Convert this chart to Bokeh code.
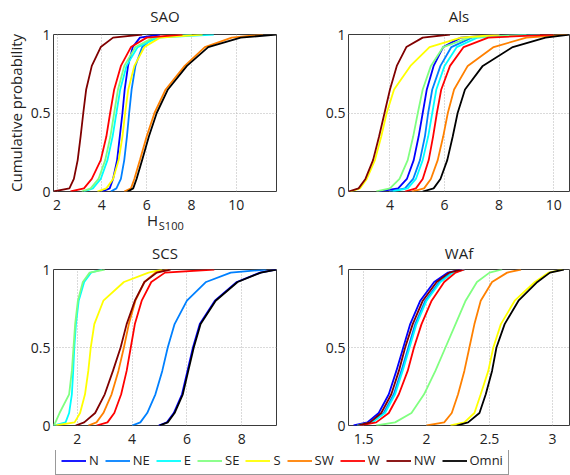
from bokeh.embed import file_html
from bokeh.layouts import column, row
from bokeh.models import (ColumnDataSource, FixedTicker, Legend, LegendItem,
                          LinearAxis, Range1d)
from bokeh.plotting import figure
from bokeh.resources import INLINE

# Cumulative probability levels at which the quantiles below are given
PROB = [0, 0.02, 0.08, 0.2, 0.35, 0.5, 0.65, 0.8, 0.92, 0.98, 1]

DIRECTIONS = ["N", "NE", "E", "SE", "S", "SW", "W", "NW", "Omni"]
COLORS = ["#0000ff", "#0080ff", "#00ffff", "#80ff80", "#ffff00",
          "#ff8000", "#ff0000", "#800000", "#000000"]

# --- SAO: H_S100 quantiles per direction ---
sao_n = [4.0, 4.35, 4.5, 4.68, 4.8, 4.92, 5.02, 5.17, 5.38, 5.7, 6.6]
sao_ne = [4.4, 4.65, 4.85, 5.0, 5.12, 5.22, 5.33, 5.5, 5.8, 6.3, 8.0]
sao_e = [3.2, 3.6, 3.95, 4.25, 4.48, 4.65, 4.82, 5.1, 5.6, 6.5, 9.0]
sao_se = [3.1, 3.5, 3.85, 4.15, 4.38, 4.55, 4.72, 5.0, 5.5, 6.3, 8.0]
sao_s = [3.8, 4.2, 4.5, 4.75, 4.92, 5.04, 5.18, 5.45, 5.9, 6.6, 8.5]
sao_sw = [5.0, 5.3, 5.45, 5.7, 6.0, 6.35, 6.85, 7.7, 8.6, 9.8, 11.2]
sao_w = [2.6, 3.2, 3.55, 3.95, 4.2, 4.37, 4.55, 4.85, 5.3, 6.0, 7.6]
sao_nw = [1.84, 2.55, 2.75, 2.92, 3.05, 3.17, 3.3, 3.55, 3.95, 4.5, 5.8]
sao_omni = [5.15, 5.4, 5.55, 5.8, 6.1, 6.45, 6.95, 7.8, 8.75, 10.2, 11.8]

# --- Als ---
als_n = [3.6, 4.3, 4.62, 4.87, 5.05, 5.2, 5.35, 5.6, 5.95, 6.6, 8.0]
als_ne = [4.0, 4.55, 4.85, 5.1, 5.28, 5.4, 5.55, 5.85, 6.25, 7.0, 9.0]
als_e = [4.1, 4.65, 4.95, 5.2, 5.4, 5.55, 5.7, 6.0, 6.45, 7.2, 9.5]
als_se = [3.5, 4.0, 4.35, 4.65, 4.85, 5.02, 5.2, 5.5, 5.95, 6.9, 9.0]
als_s = [2.55, 2.9, 3.15, 3.45, 3.68, 3.88, 4.15, 4.75, 5.45, 6.6, 8.0]
als_sw = [4.8, 5.25, 5.5, 5.75, 5.95, 6.12, 6.35, 6.85, 7.8, 9.0, 10.5]
als_w = [4.55, 4.95, 5.2, 5.42, 5.58, 5.72, 5.88, 6.2, 6.7, 7.6, 10.0]
als_nw = [2.48, 2.85, 3.1, 3.38, 3.6, 3.8, 4.0, 4.25, 4.6, 5.2, 6.2]
als_omni = [5.2, 5.6, 5.85, 6.1, 6.3, 6.48, 6.75, 7.4, 8.5, 9.7, 10.58]

# --- SCS ---
scs_n = [4.97, 5.27, 5.52, 5.82, 6.02, 6.22, 6.47, 7.02, 7.82, 8.67, 9.25]
scs_ne = [4.0, 4.3, 4.55, 4.85, 5.1, 5.3, 5.55, 6.0, 6.7, 7.6, 8.9]
scs_e = [1.13, 1.57, 1.7, 1.8, 1.85, 1.89, 1.95, 2.05, 2.25, 2.5, 2.9]
scs_se = [1.13, 1.2, 1.35, 1.7, 1.8, 1.86, 1.92, 2.02, 2.2, 2.45, 3.0]
scs_s = [1.2, 1.9, 2.1, 2.28, 2.4, 2.49, 2.62, 2.95, 3.7, 4.6, 5.1]
scs_sw = [2.4, 2.7, 2.95, 3.25, 3.5, 3.7, 3.88, 4.12, 4.45, 4.85, 5.3]
scs_w = [2.7, 3.1, 3.35, 3.6, 3.8, 3.95, 4.1, 4.35, 4.7, 5.2, 7.0]
scs_nw = [1.94, 2.25, 2.65, 3.0, 3.3, 3.58, 3.8, 4.1, 4.45, 4.9, 5.4]
scs_omni = [5.0, 5.3, 5.55, 5.85, 6.05, 6.25, 6.5, 7.05, 7.85, 8.7, 9.27]

# --- WAf ---
waf_n = [1.42, 1.53, 1.62, 1.7, 1.76, 1.815, 1.87, 1.95, 2.06, 2.17, 2.28]
waf_ne = [1.45, 1.56, 1.66, 1.74, 1.8, 1.855, 1.91, 1.99, 2.1, 2.2, 2.3]
waf_e = [1.45, 1.57, 1.67, 1.75, 1.81, 1.865, 1.92, 2.0, 2.11, 2.21, 2.3]
waf_se = [1.6, 1.75, 1.88, 1.98, 2.07, 2.15, 2.23, 2.31, 2.4, 2.5, 2.6]
waf_s = [2.19, 2.3, 2.38, 2.43, 2.49, 2.53, 2.59, 2.7, 2.86, 2.97, 3.08]
waf_sw = [2.0, 2.14, 2.2, 2.25, 2.3, 2.34, 2.38, 2.43, 2.52, 2.64, 2.75]
waf_w = [1.47, 1.6, 1.7, 1.78, 1.85, 1.9, 1.96, 2.04, 2.14, 2.23, 2.3]
waf_nw = [1.45, 1.55, 1.64, 1.72, 1.78, 1.83, 1.89, 1.97, 2.08, 2.18, 2.28]
waf_omni = [2.24, 2.33, 2.42, 2.47, 2.52, 2.555, 2.62, 2.73, 2.88, 2.98, 3.09]

# Axis extents and tick labels
sao_xrange = (1.84, 11.8)
als_xrange = (2.48, 10.58)
scs_xrange = (1.13, 9.27)
waf_xrange = (1.38, 3.135)
sao_xticks = [2, 4, 6, 8, 10]
als_xticks = [4, 6, 8, 10]
scs_xticks = [2, 4, 6, 8]
waf_xticks = [1.5, 2, 2.5, 3]
waf_xtick_labels = ["1.5", "2", "2.5", "3"]
y_ticks = [0, 0.5, 1]
y_tick_labels = ["0", "0.5", "1"]

FONT = "Open Sans"
TEXT_COLOR = "#222222"


def style_axis(ax, size="14px", standoff=4):
    ax.axis_line_color = None
    ax.major_tick_line_color = None
    ax.minor_tick_line_color = None
    ax.major_tick_out = 0
    ax.major_tick_in = 0
    ax.minor_tick_out = 0
    ax.minor_tick_in = 0
    ax.major_label_text_font = FONT
    ax.major_label_text_font_size = size
    ax.major_label_text_color = TEXT_COLOR
    ax.major_label_standoff = standoff


def panel(title, xr, xticks, series, border, frame_w, frame_h, title_gap,
          xtick_labels=None, ylabel=None):
    left, right, top, bottom = border
    p = figure(frame_width=frame_w, frame_height=frame_h,
               x_range=Range1d(*xr), y_range=Range1d(0, 1),
               output_backend="svg", toolbar_location=None,
               min_border_left=left, min_border_right=right,
               min_border_top=top, min_border_bottom=bottom,
               background_fill_color="white", border_fill_color="white")
    p.title = None
    x_axis = p.below[0]
    y_axis = p.left[0]

    x_axis.ticker = FixedTicker(ticks=xticks)
    y_axis.ticker = FixedTicker(ticks=y_ticks)
    y_axis.major_label_overrides = {t: s for t, s in zip(y_ticks, y_tick_labels)}
    if xtick_labels is not None:
        x_axis.major_label_overrides = {t: s for t, s in zip(xticks, xtick_labels)}
    style_axis(x_axis, standoff=8)
    style_axis(y_axis, standoff=3)
    if ylabel:
        y_axis.axis_label = ylabel
        y_axis.axis_label_text_font = FONT
        y_axis.axis_label_text_font_size = "15px"
        y_axis.axis_label_text_font_style = "normal"
        y_axis.axis_label_text_color = TEXT_COLOR
        y_axis.axis_label_standoff = 2

    # Panel name, centred above the frame on a bare top axis
    mid = (xr[0] + xr[1]) / 2
    top_axis = LinearAxis(ticker=FixedTicker(ticks=[mid]),
                          major_label_overrides={mid: title})
    style_axis(top_axis, size="15px", standoff=title_gap)
    p.add_layout(top_axis, "above")

    p.xgrid.ticker = FixedTicker(ticks=xticks)
    p.ygrid.ticker = FixedTicker(ticks=y_ticks)
    for g in (p.xgrid[0], p.ygrid[0]):
        g.grid_line_color = "#b4b4b4"
        g.grid_line_dash = "1 2"
        g.grid_line_width = 1

    p.outline_line_color = "#3a3a3a"
    p.outline_line_width = 1

    for xs, color in zip(series, COLORS):
        src = ColumnDataSource(dict(x=xs, y=PROB))
        p.line("x", "y", source=src, line_color=color, line_width=1.8)
    return p


sao_series = [sao_n, sao_ne, sao_e, sao_se, sao_s, sao_sw, sao_w, sao_nw, sao_omni]
sao = panel("SAO", sao_xrange, sao_xticks, sao_series,
            (53, 24, 34, 44), 223, 157, 9, ylabel="Cumulative probability")

# H_S100 axis title: main letter and subscript set as labels of two bare axes
h_pos, sub_pos = 6.26, 7.1
h_axis = LinearAxis(ticker=FixedTicker(ticks=[h_pos]),
                    major_label_overrides={h_pos: "H"})
style_axis(h_axis, size="15px", standoff=-3)
sub_axis = LinearAxis(ticker=FixedTicker(ticks=[sub_pos]),
                      major_label_overrides={sub_pos: "S100"})
style_axis(sub_axis, size="11px", standoff=-15)
sao.add_layout(h_axis, "below")
sao.add_layout(sub_axis, "below")

als = panel("Als", als_xrange, als_xticks,
            [als_n, als_ne, als_e, als_se, als_s, als_sw, als_w, als_nw, als_omni],
            (48, 1, 34, 44), 221, 157, 9)
scs = panel("SCS", scs_xrange, scs_xticks,
            [scs_n, scs_ne, scs_e, scs_se, scs_s, scs_sw, scs_w, scs_nw, scs_omni],
            (53, 24, 34, 25), 223, 156, 7)
waf = panel("WAf", waf_xrange, waf_xticks,
            [waf_n, waf_ne, waf_e, waf_se, waf_s, waf_sw, waf_w, waf_nw, waf_omni],
            (48, 1, 34, 25), 221, 156, 7, xtick_labels=waf_xtick_labels)

# Shared legend strip; its lines reuse the SAO curves, kept outside the view
leg_fig = figure(width=570, height=25, x_range=Range1d(0, 1), y_range=Range1d(5, 6),
                 output_backend="svg", toolbar_location=None, min_border=0,
                 background_fill_color="white", border_fill_color="white")
leg_fig.axis.visible = False
leg_fig.grid.visible = False
leg_fig.outline_line_color = None
items = []
for name, color, xs in zip(DIRECTIONS, COLORS, sao_series):
    r = leg_fig.line(x=xs, y=PROB, line_color=color, line_width=1.8)
    items.append(LegendItem(label=name, renderers=[r]))
legend = Legend(items=items, orientation="horizontal", location=(55, 0),
                label_text_font=FONT, label_text_font_size="13px",
                label_text_color=TEXT_COLOR, label_standoff=3, label_width=4,
                glyph_width=25, glyph_height=15, spacing=6, padding=5, margin=0,
                border_line_color="#333333", border_line_width=1,
                background_fill_color="white", background_fill_alpha=1)
leg_fig.add_layout(legend, "center")

layout = column(row(sao, als, spacing=0), row(scs, waf, spacing=0), leg_fig, spacing=0)

open("out.html", "w").write(file_html(layout, INLINE))
